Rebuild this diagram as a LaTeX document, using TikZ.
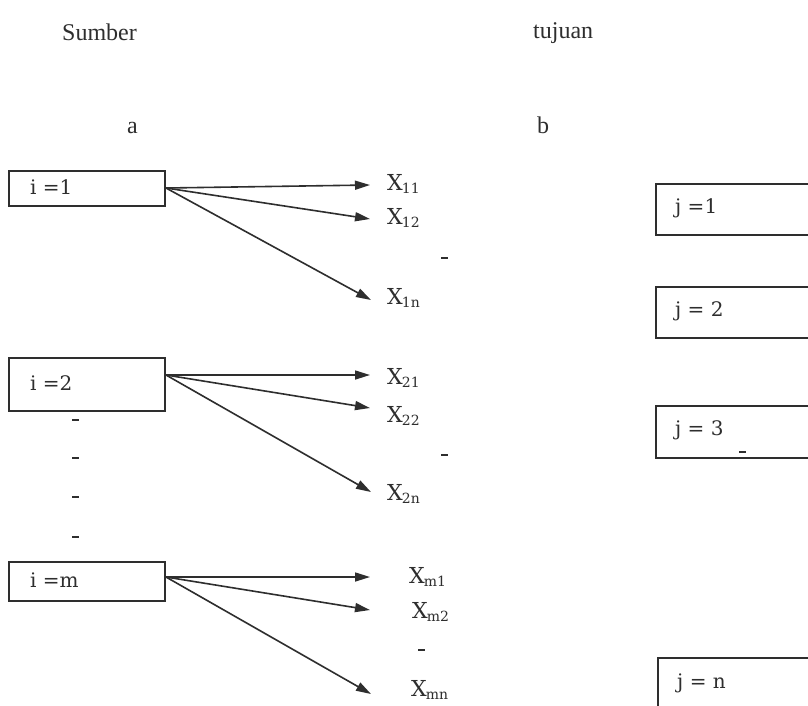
\documentclass[tikz,border=0pt]{standalone}
\usepackage{fontspec}
\setmainfont{Liberation Serif}
\newfontfamily\labelfont{DejaVu Serif}
\usetikzlibrary{arrows.meta}
\definecolor{ink}{HTML}{2E2E2E}
\tikzset{
  title/.style={anchor=base west,inner sep=0pt,font=\fontsize{24}{26}\selectfont,text=ink},
  srcbox/.style={draw=ink,line width=2pt,minimum width=156pt,inner sep=0pt,anchor=north west},
  dstbox/.style={draw=ink,line width=2pt,minimum width=180pt,inner sep=0pt,anchor=north west},
  boxtext/.style={anchor=west,inner sep=0pt,font=\labelfont\fontsize{20}{22}\selectfont,text=ink},
  var/.style={anchor=west,inner sep=0pt,font=\labelfont\fontsize{22}{24}\selectfont,text=ink},
  flow/.style={draw=ink,line width=1.6pt,-{Triangle[length=15pt,width=9pt]}},
  gap/.style={draw=ink,line width=1.4pt},
}
\newcommand{\xv}[1]{X\kern-1pt\textsubscript{\fontsize{14}{14}\selectfont #1}}
\begin{document}
\begin{tikzpicture}[x=1pt,y=-1pt]
\useasboundingbox (0,0) rectangle (808,705);
\fill[white] (0,0) rectangle (808,705);
\begin{scope}
\clip (0,0) rectangle (808,705);

% headings
\node[title] (sumber) at (62,40) {Sumber};
\node[title] (tujuan) at (533,38) {tujuan};
\node[title] (a) at (127,133) {a};
\node[title] (b) at (537,133) {b};

% source boxes
\node[srcbox,minimum height=35pt] (i1) at (8,170) {};
\node[boxtext] (ti1) at (30,187) {i =1};
\node[srcbox,minimum height=53pt] (i2) at (8,357) {};
\node[boxtext] (ti2) at (30,383) {i =2};
\node[srcbox,minimum height=39pt] (im) at (8,561) {};
\node[boxtext] (tim) at (30,580) {i =m};

% vertical ellipsis marks below the second source
\foreach \yy [count=\k] in {420,458,497,537}
  \draw[gap] (72,\yy) -- coordinate (vd\k) (79,\yy);

% variable labels
\node[var] (x11) at (387,184) {\xv{11}};
\node[var] (x12) at (387,218) {\xv{12}};
\draw[gap] (441,258) -- coordinate (d1) (448,258);
\node[var] (x1n) at (387,298) {\xv{1n}};

\node[var] (x21) at (387,378) {\xv{21}};
\node[var] (x22) at (387,416) {\xv{22}};
\draw[gap] (441,455) -- coordinate (d2) (448,455);
\node[var] (x2n) at (387,494) {\xv{2n}};

\node[var] (xm1) at (409,577) {\xv{m1}};
\node[var] (xm2) at (412,612) {\xv{m2}};
\draw[gap] (418,650) -- coordinate (d3) (425,650);
\node[var] (xmn) at (411,690) {\xv{mn}};

% arrow tips
\coordinate (e11) at (370,185);
\coordinate (e12) at (370,219);
\coordinate (e1n) at (371,300);
\coordinate (e21) at (370,375);
\coordinate (e22) at (370,408);
\coordinate (e2n) at (371,492);
\coordinate (em1) at (370,577);
\coordinate (em2) at (370,610);
\coordinate (emn) at (371,694);

% starting points on the source boxes
\coordinate (s1) at (i1.east |- 0,188);
\coordinate (s2) at (i2.east |- 0,375);
\coordinate (sm) at (im.east |- 0,577);

\draw[flow] (s1) -- (e11);
\draw[flow] (s1) -- (e12);
\draw[flow] (s1) -- (e1n);
\draw[flow] (s2) -- (e21);
\draw[flow] (s2) -- (e22);
\draw[flow] (s2) -- (e2n);
\draw[flow] (sm) -- (em1);
\draw[flow] (sm) -- (em2);
\draw[flow] (sm) -- (emn);

% destination boxes
\node[dstbox,minimum height=51pt] (j1) at (655,183) {};
\node[boxtext] (tj1) at (675,208) {j =1};
\node[dstbox,minimum height=51pt] (j2) at (655,286) {};
\node[boxtext] (tj2) at (675,311) {j = 2};
\node[dstbox,minimum height=52pt] (j3) at (655,405) {};
\node[boxtext] (tj3) at (675,430) {j = 3};
\draw[gap] (739,452) -- coordinate (d4) (746,452);
\node[dstbox,minimum height=70pt] (jn) at (657,657) {};
\node[boxtext] (tjn) at (677,683) {j = n};
\end{scope}
\end{tikzpicture}
\end{document}
